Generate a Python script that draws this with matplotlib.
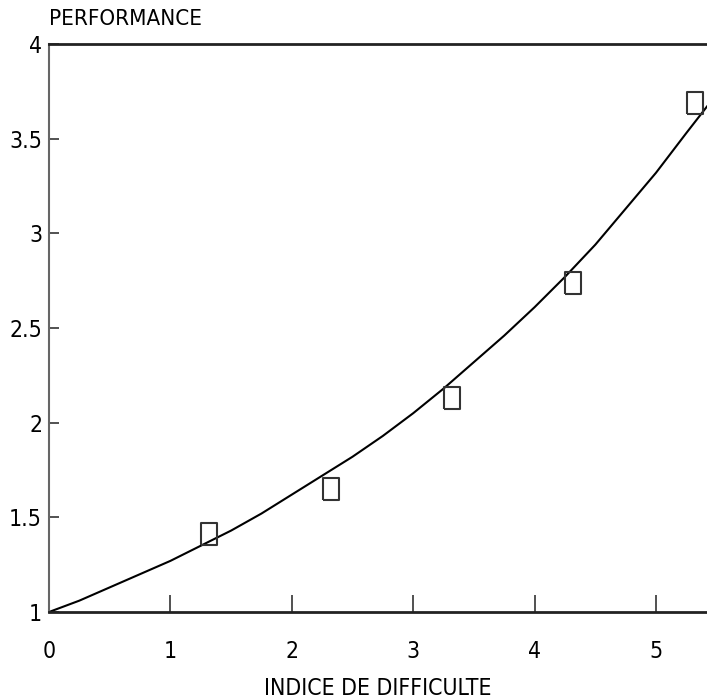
import matplotlib.pyplot as plt

# Measured points (index of difficulty vs performance)
id_vals = [1.32, 2.32, 3.32, 4.32, 5.32]
perf_vals = [1.41, 1.65, 2.13, 2.74, 3.69]

# Fitted curve
curve_x = [0.0, 0.25, 0.5, 0.75, 1.0, 1.25, 1.5, 1.75, 2.0, 2.25, 2.5, 2.75,
           3.0, 3.25, 3.5, 3.75, 4.0, 4.25, 4.5, 4.75, 5.0, 5.25, 5.42]
curve_y = [1.00, 1.06, 1.13, 1.20, 1.27, 1.35, 1.43, 1.52, 1.62, 1.72, 1.82,
           1.93, 2.05, 2.18, 2.32, 2.46, 2.61, 2.77, 2.94, 3.13, 3.32, 3.53, 3.67]

x_ticks = [0, 1, 2, 3, 4, 5]
y_ticks = [1, 1.5, 2, 2.5, 3, 3.5, 4]
y_labels = ['1', '1.5', '2', '2.5', '3', '3.5', '4']

plt.rcParams['font.family'] = ['DejaVu Sans']
plt.rcParams['font.stretch'] = 'condensed'

fig = plt.figure(figsize=(7.07, 7.0), dpi=100)
ax = fig.add_axes([49 / 707, 1 - 612 / 700, 1 - 49 / 707, (612 - 44) / 700])

ax.plot(curve_x, curve_y, color='black', lw=1.5)

rect = [(-0.34, -0.5), (0.34, -0.5), (0.34, 0.5), (-0.34, 0.5), (-0.34, -0.5)]
ax.plot(id_vals, perf_vals, linestyle='none', marker=rect, markersize=16,
        markerfacecolor='none', markeredgecolor='#333333', markeredgewidth=1.5)

ax.set_xlim(0, 5.42)
ax.set_ylim(1, 4)
ax.set_xticks(x_ticks)
ax.set_yticks(y_ticks)
ax.set_yticklabels(y_labels)

ax.tick_params(axis='x', direction='in', length=12, width=1.2, pad=20,
               labelsize=16.5, color='#333333')
ax.tick_params(axis='y', direction='in', length=7, width=1.2, pad=5,
               labelsize=16.5, color='#333333')

ax.spines['right'].set_visible(False)
ax.spines['top'].set_linewidth(2)
ax.spines['top'].set_color('#222222')
ax.spines['bottom'].set_linewidth(2)
ax.spines['bottom'].set_color('#222222')
ax.spines['left'].set_linewidth(1.5)
ax.spines['left'].set_color('#666666')

ax.set_xlabel('INDICE DE DIFFICULTE', fontsize=16.5, va='center')
ax.xaxis.set_label_coords(0.5, -0.134)
ax.text(0, 1.044, 'PERFORMANCE', transform=ax.transAxes, fontsize=16,
        ha='left', va='center')

fig.savefig('out.png', dpi=100)
